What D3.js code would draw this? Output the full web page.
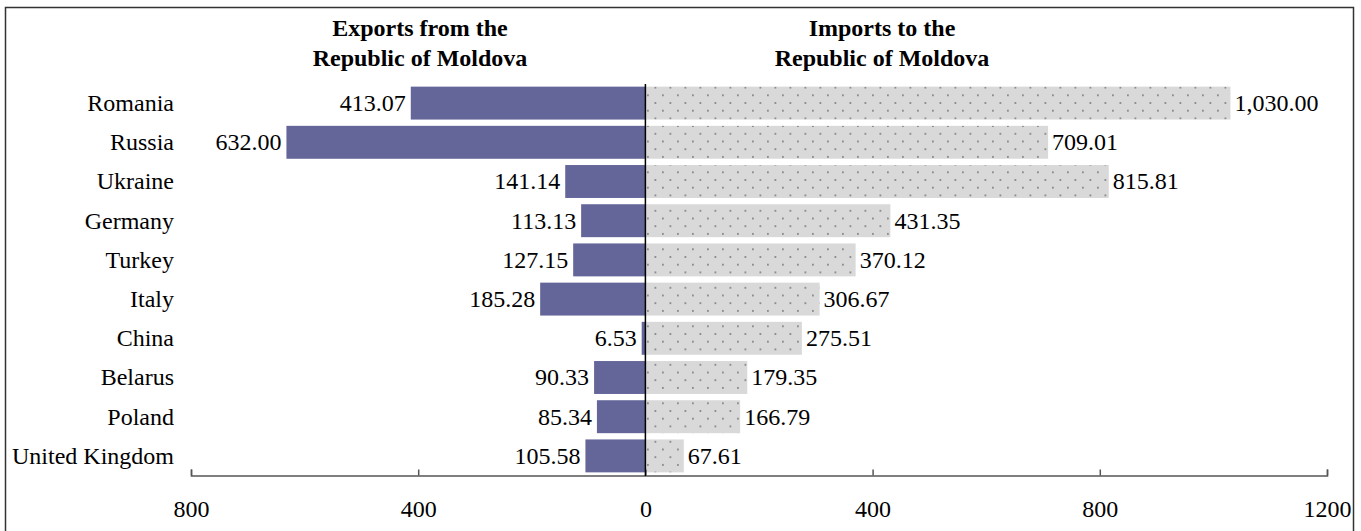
<!DOCTYPE html>
<html>
<head>
<meta charset="utf-8">
<script src="https://cdn.jsdelivr.net/npm/d3@7"></script>
<style>
  html, body { margin: 0; padding: 0; background: #fff; }
  svg text { font-family: "Liberation Serif", "Times New Roman", serif; fill: #000; }
</style>
</head>
<body>
<svg id="chart" width="1361" height="531"></svg>
<script>
// data
const countries = ["Romania", "Russia", "Ukraine", "Germany", "Turkey", "Italy", "China", "Belarus", "Poland", "United Kingdom"];
const exportsVals = [413.07, 632.00, 141.14, 113.13, 127.15, 185.28, 6.53, 90.33, 85.34, 105.58];
const importsVals = [1030.00, 709.01, 815.81, 431.35, 370.12, 306.67, 275.51, 179.35, 166.79, 67.61];
const tickVals = [-800, -400, 0, 400, 800, 1200];
const exportsTitle = ["Exports from the", "Republic of Moldova"];
const importsTitle = ["Imports to the", "Republic of Moldova"];

const vis = {

    svg : d3.select("#chart"),

    x : d3.scaleLinear().domain([-800, 1200]).range([191, 1327]),

    y : d3.scaleBand().domain(countries).range([83.5, 475.5]).paddingInner(0.16).paddingOuter(0.08),

    fmt : d3.format(",.2f"),

    defs : function() {
        const p = this.svg.append("defs").append("pattern")
            .attr("id", "dots")
            .attr("patternUnits", "userSpaceOnUse")
            .attr("width", 15).attr("height", 15.4);
        p.append("rect").attr("width", 15).attr("height", 15.4).attr("fill", "#d9d9d9");
        p.append("rect").attr("x", 2).attr("y", 2).attr("width", 1.8).attr("height", 1.8).attr("fill", "#888");
        p.append("rect").attr("x", 9.5).attr("y", 9.7).attr("width", 1.8).attr("height", 1.8).attr("fill", "#888");
    },

    frame : function() {
        this.svg.append("rect")
            .attr("x", 5.5).attr("y", 7.5)
            .attr("width", 1348).attr("height", 540)
            .attr("fill", "none")
            .attr("stroke", "#333")
            .attr("stroke-width", 1.5);
    },

    bars : function() {
        const x = this.x, y = this.y;

        this.svg.append("g").selectAll("rect")
            .data(countries)
            .join("rect")
            .attr("x", (d, i) => x(-exportsVals[i]))
            .attr("y", d => y(d))
            .attr("width", (d, i) => x(0) - x(-exportsVals[i]))
            .attr("height", y.bandwidth())
            .attr("fill", "#646599");

        this.svg.append("g").selectAll("rect")
            .data(countries)
            .join("rect")
            .attr("x", x(0))
            .attr("y", d => y(d))
            .attr("width", (d, i) => x(importsVals[i]) - x(0))
            .attr("height", y.bandwidth())
            .attr("fill", "url(#dots)");
    },

    labels : function() {
        const x = this.x, y = this.y, fmt = this.fmt;
        const mid = d => y(d) + y.bandwidth() / 2;

        this.svg.append("g").selectAll("text")
            .data(countries)
            .join("text")
            .attr("x", (d, i) => x(-exportsVals[i]) - 5)
            .attr("y", mid)
            .attr("dy", "0.33em")
            .attr("text-anchor", "end")
            .style("font-size", "24px")
            .text((d, i) => fmt(exportsVals[i]));

        this.svg.append("g").selectAll("text")
            .data(countries)
            .join("text")
            .attr("x", (d, i) => x(importsVals[i]) + 4)
            .attr("y", mid)
            .attr("dy", "0.33em")
            .style("font-size", "24px")
            .text((d, i) => fmt(importsVals[i]));

        this.svg.append("g").selectAll("text")
            .data(countries)
            .join("text")
            .attr("x", 174)
            .attr("y", mid)
            .attr("dy", "0.33em")
            .attr("text-anchor", "end")
            .style("font-size", "24px")
            .text(d => d);
    },

    titles : function() {
        const put = (lines, cx) => {
            this.svg.append("g").selectAll("text")
                .data(lines)
                .join("text")
                .attr("x", cx)
                .attr("y", (d, i) => 36 + i * 30)
                .attr("text-anchor", "middle")
                .style("font-size", "24px")
                .style("font-weight", "bold")
                .text(d => d);
        };
        put(exportsTitle, 420);
        put(importsTitle, 882);
    },

    axis : function() {
        const g = this.svg.append("g")
            .attr("transform", "translate(0,475.5)")
            .call(d3.axisBottom(this.x)
                .tickValues(tickVals)
                .tickSize(-6)
                .tickPadding(24)
                .tickFormat(d => Math.abs(d)));
        g.select(".domain").attr("stroke", "#555").attr("stroke-width", 1.5);
        g.selectAll(".tick line").attr("stroke", "#555").attr("stroke-width", 1.5);
        g.selectAll(".tick text")
            .style("font-size", "24px")
            .style("font-family", "'Liberation Serif', 'Times New Roman', serif")
            .attr("fill", "#000");

        this.svg.append("line")
            .attr("x1", this.x(0)).attr("x2", this.x(0))
            .attr("y1", 84).attr("y2", 476)
            .attr("stroke", "#000")
            .attr("stroke-width", 1.5);
    },

    init : function() {
        this.defs();
        this.frame();
        this.bars();
        this.axis();
        this.labels();
        this.titles();
    }

};

vis.init();
</script>
</body>
</html>
